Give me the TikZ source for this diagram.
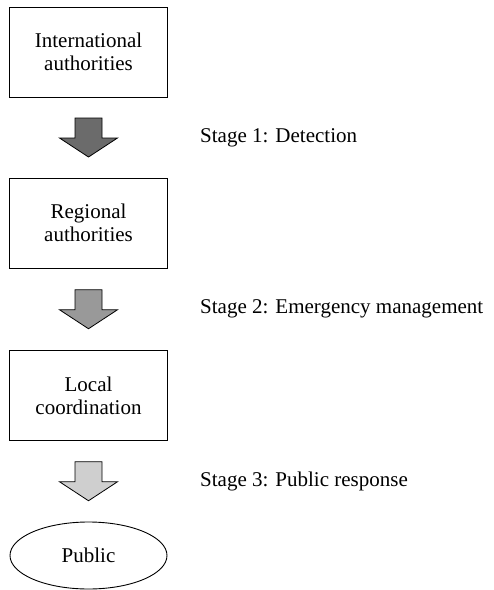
\documentclass[tikz,border=0pt]{standalone}
\usepackage{fontspec}
\setmainfont{Liberation Serif}
\usetikzlibrary{positioning,shapes.geometric}

% block arrow pointing down, centred between two nodes
\newcommand\stagearrow[3]{%
  \path (#1.south) -- (#2.north) coordinate[midway] (#1-#2);
  \draw[fill=#3, line width=0.8pt, shift={(#1-#2)}]
    (-13.5,-19.5) -- (13.5,-19.5) -- (13.5,0.5) -- (29,0.5) -- (0,19.5)
    -- (-29,0.5) -- (-13.5,0.5) -- cycle;}

\begin{document}
\begin{tikzpicture}[x=1pt, y=-1pt, every node/.style={font=\fontsize{21}{23}\selectfont}, box/.style={draw, line width=0.9pt, minimum width=158pt, minimum height=90pt, align=center, inner sep=0pt}, stage/.style={anchor=west, inner sep=0pt}]
\useasboundingbox (0,0) rectangle (494,590);
\node[box] (intl) at (88.5,52) {International\\authorities};
\node[box] (reg) at (88.5,223) {Regional\\authorities};
\node[box] (loc) at (88.5,395.5) {Local\\coordination};
\node[draw, ellipse, line width=0.9pt, minimum width=157pt, minimum height=67pt, inner sep=0pt] (pub) at (88.5,555.5) {Public};
\stagearrow{intl}{reg}{black!58}
\stagearrow{reg}{loc}{black!40}
\stagearrow{loc}{pub}{black!19}
\coordinate (lbl) at (200,0);
\node[stage] (s1) at (lbl |- intl-reg) {Stage 1: Detection};
\node[stage] (s2) at (lbl |- reg-loc) {Stage 2: Emergency management};
\node[stage] (s3) at (lbl |- loc-pub) {Stage 3: Public response};
\end{tikzpicture}
\end{document}
